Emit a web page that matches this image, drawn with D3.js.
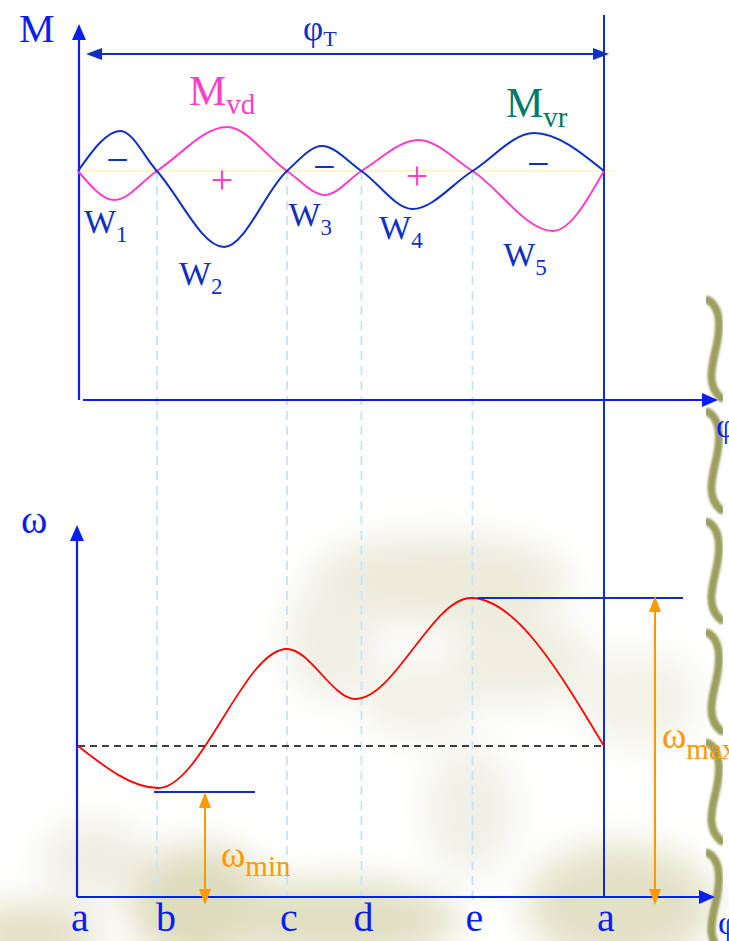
<!DOCTYPE html>
<meta charset="utf-8">
<style>
body { margin: 0; background: #fff; }
svg { display: block; font-family: "Liberation Serif", "DejaVu Serif", serif; }
</style>
<body>
<div id="chart"></div>
<script src="https://cdn.jsdelivr.net/npm/d3@7"></script>
<script>

// positions along the cycle (degrees of rotation) and their letters
var phiPos = [0, 54, 143, 194, 270, 360];
var phiNames = ['a', 'b', 'c', 'd', 'e', 'a'];

// driving moment M_vd (pink) [phi, M]
var mvdPhi = [0, 25, 54, 102, 143, 169, 194, 233, 270, 325, 360];
var mvdVal = [0, -29, 0, 44, 0, -24, 0, 31, 0, -60, 0];

// resisting moment M_vr (blue)
var mvrPhi = [0, 29, 54, 100, 143, 167, 194, 229, 270, 312, 360];
var mvrVal = [0, 40, 0, -76, 0, 25, 0, -38, 0, 38, 0];

// area labels W1..W5
var areaNames = ['1', '2', '3', '4', '5'];
var areaPhi = [15, 80, 155, 217, 302];
var areaVal = [-62, -114, -55, -68, -95];
var areaSign = ['−', '+', '−', '+', '−'];
var signVal = [8, -12, 1, -8, 4];

// angular velocity omega [phi, w]
var omPhi = [0, 55, 143, 190, 269, 360];
var omVal = [151, 109, 248, 198, 299, 151];
var omMean = 151;
var omMin = 105;
var omMax = 299;

var W = 729, H = 941;
var blue = '#0a1ef0', dblue = '#1030c0', pink = '#ff3ec6', teal = '#00786c', orange = '#ff9900';

var svg = d3.select('#chart').append('svg').attr('width', W).attr('height', H);

// ---- background decoration (blurred leaves + bamboo edge)
var defs = svg.append('defs');
defs.append('filter').attr('id', 'blur').attr('x', '-50%').attr('y', '-50%').attr('width', '200%').attr('height', '200%')
  .append('feGaussianBlur').attr('stdDeviation', 18);
defs.append('filter').attr('id', 'soft').append('feGaussianBlur').attr('stdDeviation', 1.2);

var bg = svg.append('g').attr('filter', 'url(#blur)');
var blobs = [
  [440, 580, 130, 45, '#ecebda'], [520, 660, 70, 45, '#efeee0'], [330, 640, 45, 60, '#f0efe4'],
  [200, 905, 70, 60, '#dedcbd'], [340, 920, 120, 40, '#e0dfc2'], [620, 905, 95, 60, '#e2e1c6'],
  [30, 935, 70, 30, '#e0dfc2'], [470, 810, 45, 65, '#f1f0e5'], [95, 860, 55, 40, '#efeee2'],
  [640, 700, 60, 50, '#f3f2e8'], [420, 700, 60, 40, '#f2f1e6']
];
bg.selectAll('ellipse').data(blobs).enter().append('ellipse')
  .attr('cx', function(d) { return d[0]; }).attr('cy', function(d) { return d[1]; })
  .attr('rx', function(d) { return d[2]; }).attr('ry', function(d) { return d[3]; })
  .attr('fill', function(d) { return d[4]; });

var bamboo = svg.append('g').attr('filter', 'url(#soft)');
[300, 412, 522, 633, 743, 853].forEach(function(y0) {
  bamboo.append('path')
    .attr('d', 'M708,' + y0 + ' C722,' + (y0 + 8) + ' 720,' + (y0 + 30) + ' 716,' + (y0 + 48) +
      ' C712,' + (y0 + 66) + ' 706,' + (y0 + 85) + ' 721,' + (y0 + 98))
    .attr('fill', 'none').attr('stroke', '#9b9e5c').attr('stroke-width', 8).attr('stroke-linecap', 'round');
});

// ---- scales
var x = d3.scaleLinear().domain([0, 360]).range([78, 604]);
var yM = d3.scaleLinear().domain([-100, 100]).range([271, 71]);
var yW = d3.scaleLinear().domain([0, 300]).range([897, 597]);

function arrowHead(g, x0, y0, dir, color, len, half) {
  var pts;
  if (dir === 'up') pts = [[x0, y0], [x0 - half, y0 + len], [x0 + half, y0 + len]];
  if (dir === 'down') pts = [[x0, y0], [x0 - half, y0 - len], [x0 + half, y0 - len]];
  if (dir === 'right') pts = [[x0, y0], [x0 - len, y0 - half], [x0 - len, y0 + half]];
  if (dir === 'left') pts = [[x0, y0], [x0 + len, y0 - half], [x0 + len, y0 + half]];
  g.append('path').attr('d', 'M' + pts.join('L') + 'Z').attr('fill', color);
}

function line(g, x1, y1, x2, y2, color, w, dash) {
  return g.append('line').attr('x1', x1).attr('y1', y1).attr('x2', x2).attr('y2', y2)
    .attr('stroke', color).attr('stroke-width', w).attr('stroke-dasharray', dash || null);
}

function subText(g, x0, y0, main, sub, color, fs, sfs, dy) {
  var t = g.append('text').attr('x', x0).attr('y', y0).attr('fill', color).attr('font-size', fs);
  t.append('tspan').text(main);
  t.append('tspan').attr('font-size', sfs).attr('dy', dy).text(sub);
  return t;
}

var g = svg.append('g');

// dashed guide lines at b..e
phiPos.slice(1, 5).forEach(function(p) {
  line(g, x(p), yM(0), x(p), 905, '#c4e4f9', 1.8, '9,6');
});

// zero line of the moment plot
line(g, x(0), yM(0), 615, yM(0), '#fff4b0', 1.5);

// ---- top plot axes
line(g, 79, 400, 79, 38, blue, 2.2);
arrowHead(g, 79, 24, 'up', blue, 16, 7);
line(g, 83, 400, 704, 400, blue, 2.2);
arrowHead(g, 718, 400, 'right', blue, 16, 7);
g.append('text').attr('x', 19).attr('y', 42).attr('font-size', 40).attr('fill', blue).text('M');
g.append('text').attr('x', 716).attr('y', 437).attr('font-size', 34).attr('fill', blue).text('φ');

// period arrow phi_T
line(g, 98, 54, 596, 54, dblue, 2);
arrowHead(g, 86, 54, 'left', dblue, 16, 6);
arrowHead(g, 609, 54, 'right', dblue, 16, 6);
subText(g, 303, 40, 'φ', 'T', dblue, 35, 22, 6);
line(g, x(360), 15, x(360), 897, dblue, 2);

// moment curves
var mline = d3.line().x(function(d) { return x(d[0]); }).y(function(d) { return yM(d[1]); }).curve(d3.curveMonotoneX);
g.append('path').datum(d3.zip(mvdPhi, mvdVal)).attr('d', mline)
  .attr('fill', 'none').attr('stroke', pink).attr('stroke-width', 2);
g.append('path').datum(d3.zip(mvrPhi, mvrVal)).attr('d', mline)
  .attr('fill', 'none').attr('stroke', dblue).attr('stroke-width', 2);

subText(g, 189, 105, 'M', 'vd', pink, 42, 29, 9);
subText(g, 506, 117, 'M', 'vr', teal, 42, 29, 10);

// area signs and W labels
areaNames.forEach(function(n, i) {
  var cx = x((phiPos[i] + phiPos[i + 1]) / 2);
  g.append('text').attr('x', cx).attr('y', yM(signVal[i]) + 10).attr('text-anchor', 'middle')
    .attr('font-size', 40).attr('fill', areaSign[i] === '+' ? pink : dblue).text(areaSign[i]);
  subText(g, x(areaPhi[i]) - 16, yM(areaVal[i]), 'W', n, dblue, 34, 23, 9)
    .attr('text-anchor', 'start');
});

// ---- bottom plot
line(g, 77, 897, 77, 540, blue, 2.2);
arrowHead(g, 77, 525, 'up', blue, 16, 7);
line(g, 77, 897, 700, 897, blue, 2.2);
arrowHead(g, 715, 897, 'right', blue, 16, 7);
g.append('text').attr('x', 21).attr('y', 533).attr('font-size', 40).attr('fill', blue).text('ω');
g.append('text').attr('x', 718).attr('y', 934).attr('font-size', 34).attr('fill', blue).text('φ');

g.selectAll('.ph').data(phiPos).enter().append('text').attr('class', 'ph')
  .attr('x', function(d, i) { return x(d) + (i === 1 ? 9 : 2); }).attr('y', 931)
  .attr('text-anchor', 'middle').attr('font-size', 40).attr('fill', blue)
  .text(function(d, i) { return phiNames[i]; });

// mean speed
line(g, x(0), yW(omMean), x(360), yW(omMean), '#000', 1.6, '7,5');

// omega curve
var wline = d3.line().x(function(d) { return x(d[0]); }).y(function(d) { return yW(d[1]); }).curve(d3.curveMonotoneX);
g.append('path').datum(d3.zip(omPhi, omVal)).attr('d', wline)
  .attr('fill', 'none').attr('stroke', '#ff0000').attr('stroke-width', 1.8);

// omega min / max markers
line(g, 154, yW(omMin), 255, yW(omMin), dblue, 2);
line(g, x(270) + 5, yW(omMax), 683, yW(omMax), dblue, 2);

line(g, 205, yW(omMin) + 12, 205, 893, orange, 2);
arrowHead(g, 205, yW(omMin), 'up', orange, 16, 6);
arrowHead(g, 205, 905, 'down', orange, 16, 6);
subText(g, 221, 867, 'ω', 'min', orange, 37, 29, 9);

line(g, 655, yW(omMax) + 12, 655, 893, orange, 2);
arrowHead(g, 655, yW(omMax) - 2, 'up', orange, 16, 6);
arrowHead(g, 655, 905, 'down', orange, 16, 6);
subText(g, 662, 748, 'ω', 'max', orange, 37, 29, 11);

</script>
</body>
